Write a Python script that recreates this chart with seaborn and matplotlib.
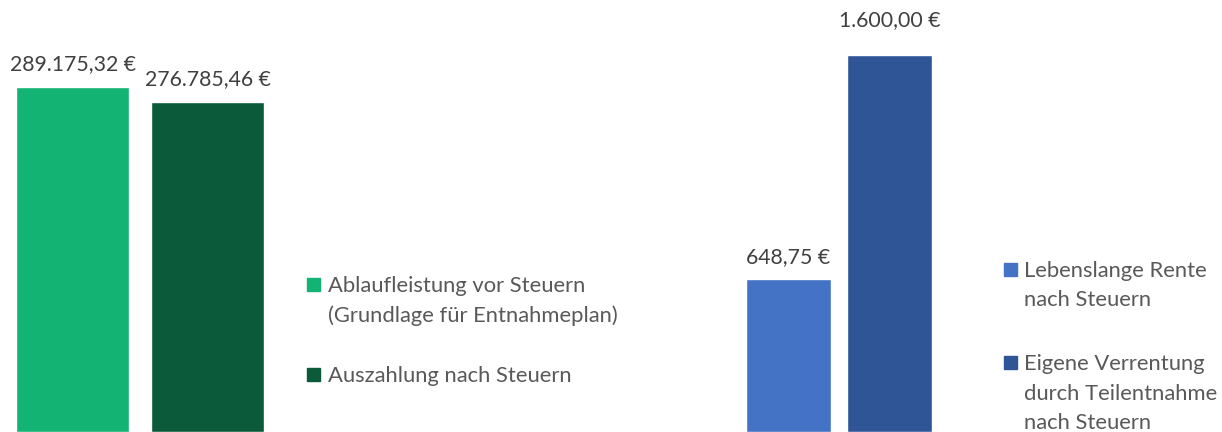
import matplotlib
matplotlib.use("Agg")
import matplotlib.pyplot as plt
import seaborn as sns
from matplotlib.patches import Rectangle

# Data
left_labels = ["Ablaufleistung vor Steuern\n(Grundlage für Entnahmeplan)", "Auszahlung nach Steuern"]
left_values = [289175.32, 276785.46]
left_colors = ["#12B373", "#0B5B3A"]

right_labels = ["Lebenslange Rente\nnach Steuern", "Eigene Verrentung\ndurch Teilentnahme\nnach Steuern"]
right_values = [648.75, 1600.00]
right_colors = ["#4472C4", "#2F5597"]

W, H, DPI = 1222, 432, 100
FONT = "Lato"
LABEL_SIZE = 15.3
LEGEND_SIZE = 15.8
LABEL_COLOR = "#404040"
LEGEND_COLOR = "#595959"


def euro(v):
    s = f"{v:,.2f}".replace(",", "X").replace(".", ",").replace("X", ".")
    return s + " €"


def px_axes(fig, x0, x1):
    return fig.add_axes([x0 / W, 0, (x1 - x0) / W, 1])


sns.set_theme(style="white")
plt.rcParams["font.family"] = [FONT, "DejaVu Sans"]

fig = plt.figure(figsize=(W / DPI, H / DPI), dpi=DPI)


def draw_panel(ax, labels, values, colors, px_per_unit, paddings):
    sns.barplot(x=labels, y=values, hue=labels, palette=colors, saturation=1,
                width=0.84, legend=False, ax=ax)
    ax.set_xlim(-0.53, 1.53)
    ax.set_ylim(0, H / px_per_unit)
    ax.axis("off")
    for cont, v, pad in zip(ax.containers, values, paddings):
        ax.bar_label(cont, labels=[euro(v)], padding=pad, fontsize=LABEL_SIZE,
                     color=LABEL_COLOR, family=[FONT, "DejaVu Sans"])


def draw_legend(labels, colors, x_sq, x_txt, first_baselines, line_gap=29.5):
    for lab, col, base in zip(labels, colors, first_baselines):
        sq_top = base - 14
        fig.patches.append(Rectangle((x_sq / W, 1 - (sq_top + 13) / H), 13 / W, 13 / H,
                                     transform=fig.transFigure, color=col))
        for i, line in enumerate(lab.split("\n")):
            fig.text(x_txt / W, 1 - (base + i * line_gap) / H, line, fontsize=LEGEND_SIZE,
                     color=LEGEND_COLOR, va="baseline", ha="left")


ax_left = px_axes(fig, 1, 279)
draw_panel(ax_left, left_labels, left_values, left_colors, 345 / 289175.32, [9, 9])
draw_legend(left_labels, left_colors, 307, 328, [292, 382])

ax_right = px_axes(fig, 735, 943)
draw_panel(ax_right, right_labels, right_values, right_colors, 377 / 1600.0, [9, 18])
draw_legend(right_labels, right_colors, 1004, 1024, [277, 370])

fig.savefig("out.png", dpi=DPI, facecolor="white")
